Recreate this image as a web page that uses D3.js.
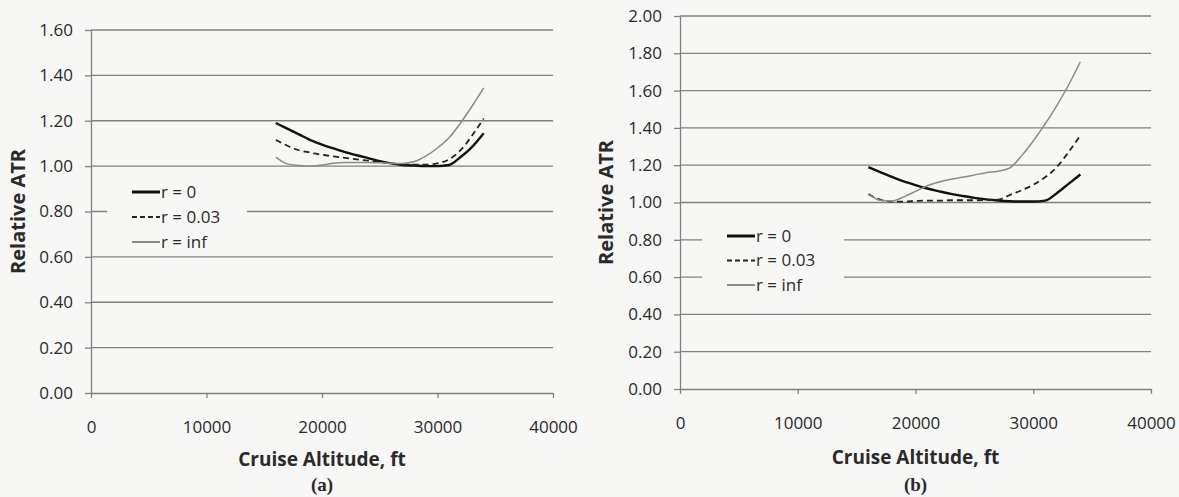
<!DOCTYPE html>
<html>
<head>
<meta charset="utf-8">
<script src="https://cdn.jsdelivr.net/npm/d3@7"></script>
<style>
  body { margin: 0; background: #f7f7f6; }
  svg { display: block; }
  text { font-family: "Open Sans", sans-serif; fill: #2a2a2a; }
</style>
</head>
<body>
<script>
// cruise altitudes, ft
var altitudes = [16000, 17000, 18000, 19000, 20000, 21000, 22000, 23000, 24000, 25000,
                 26000, 27000, 28000, 29000, 30000, 31000, 32000, 33000, 34000];

// panel (a)
var a_r0   = [1.19, 1.165, 1.14, 1.115, 1.095, 1.078, 1.062, 1.048, 1.035, 1.022,
              1.012, 1.005, 1.002, 1.0, 1.0, 1.005, 1.04, 1.085, 1.145];
var a_r003 = [1.115, 1.09, 1.07, 1.06, 1.05, 1.043, 1.036, 1.03, 1.024, 1.018,
              1.012, 1.008, 1.006, 1.006, 1.012, 1.03, 1.07, 1.135, 1.21];
var a_rinf = [1.04, 1.01, 1.003, 1.0, 1.005, 1.013, 1.016, 1.016, 1.016, 1.015,
              1.013, 1.012, 1.02, 1.045, 1.08, 1.125, 1.19, 1.265, 1.345];

// panel (b)
var b_r0   = [1.19, 1.163, 1.137, 1.113, 1.093, 1.075, 1.06, 1.046, 1.035, 1.025,
              1.017, 1.011, 1.007, 1.005, 1.005, 1.01, 1.05, 1.1, 1.15];
var b_r003 = [1.045, 1.015, 1.005, 1.005, 1.008, 1.01, 1.01, 1.012, 1.012, 1.012,
              1.013, 1.015, 1.04, 1.065, 1.095, 1.135, 1.19, 1.27, 1.36];
var b_rinf = [1.045, 1.012, 1.008, 1.03, 1.06, 1.09, 1.11, 1.125, 1.135, 1.148,
              1.16, 1.168, 1.185, 1.25, 1.33, 1.42, 1.52, 1.63, 1.755];

var xTicks = [0, 10000, 20000, 30000, 40000];
var seriesNames = ["r = 0", "r = 0.03", "r = inf"];

var styles = [
  {stroke: "#111", width: 2.4, dash: null},
  {stroke: "#222", width: 1.8, dash: "6,4"},
  {stroke: "#8a8a8a", width: 1.5, dash: null}
];

var svg = d3.select("body").append("svg")
    .attr("width", 1179)
    .attr("height", 497);

function panel(opt) {
  var x = d3.scaleLinear().domain([0, 40000]).range([opt.left, opt.right]);
  var y = d3.scaleLinear().domain([0, opt.ymax]).range([opt.bottom, opt.top]);
  var yTicks = d3.range(0, opt.ymax + 0.001, 0.2);
  var g = svg.append("g");

  // grid lines
  g.append("g").selectAll("line")
      .data(yTicks.slice(1))
    .enter().append("line")
      .attr("x1", opt.left).attr("x2", opt.right)
      .attr("y1", function(d) { return y(d); })
      .attr("y2", function(d) { return y(d); })
      .attr("stroke", "#808080")
      .attr("stroke-width", 1.3);

  // legend box hides part of the grid
  g.append("rect")
      .attr("x", opt.legBox[0]).attr("y", opt.legBox[1])
      .attr("width", opt.legBox[2]).attr("height", opt.legBox[3])
      .attr("fill", "#f7f7f6");

  var yAxis = g.append("g")
      .attr("transform", "translate(" + opt.left + ",0)")
      .call(d3.axisLeft(y).tickValues(yTicks).tickFormat(d3.format(".2f"))
        .tickSize(6).tickSizeOuter(0).tickPadding(12));

  var xAxis = g.append("g")
      .attr("transform", "translate(0," + opt.bottom + ")")
      .call(d3.axisBottom(x).tickValues(xTicks).tickFormat(d3.format("d"))
        .tickSize(5).tickSizeOuter(0).tickPadding(opt.xPad));

  [yAxis, xAxis].forEach(function(ax) {
    ax.select(".domain").attr("stroke", "#808080").attr("stroke-width", 1.3);
    ax.selectAll(".tick line").attr("stroke", "#808080").attr("stroke-width", 1.3);
    ax.selectAll(".tick text").style("font-size", "17px").attr("fill", "#2a2a2a");
  });

  var line = d3.line()
      .x(function(d) { return x(d[0]); })
      .y(function(d) { return y(d[1]); })
      .curve(d3.curveMonotoneX);

  opt.series.forEach(function(vals, i) {
    g.append("path")
        .datum(altitudes.map(function(a, k) { return [a, vals[k]]; }))
        .attr("d", line)
        .attr("fill", "none")
        .attr("stroke", styles[i].stroke)
        .attr("stroke-width", styles[i].width)
        .attr("stroke-dasharray", styles[i].dash);
  });

  // legend
  var leg = g.append("g").selectAll("g")
      .data(seriesNames)
    .enter().append("g")
      .attr("transform", function(d, i) { return "translate(" + opt.leg[0] + "," + (opt.leg[1] + i * opt.legStep) + ")"; });
  leg.append("line")
      .attr("x1", 0).attr("x2", 28)
      .attr("stroke", function(d, i) { return styles[i].stroke; })
      .attr("stroke-width", function(d, i) { return i == 0 ? 3 : 2; })
      .attr("stroke-dasharray", function(d, i) { return i == 1 ? "5,3" : null; });
  leg.append("text")
      .attr("x", 29).attr("dy", "0.35em")
      .style("font-size", "17px")
      .text(function(d) { return d; });

  // axis titles
  var cx = (opt.left + opt.right) / 2;
  g.append("text")
      .attr("transform", "translate(" + opt.yTitleX + "," + (opt.top + opt.bottom) / 2 + ") rotate(-90)")
      .attr("text-anchor", "middle").attr("dy", "0.35em")
      .style("font-size", "20px").style("font-weight", "bold")
      .text("Relative ATR");
  g.append("text")
      .attr("x", cx).attr("y", opt.xTitleY).attr("dy", "0.35em")
      .attr("text-anchor", "middle")
      .style("font-size", "19px").style("font-weight", "bold")
      .text("Cruise Altitude, ft");
  g.append("text")
      .attr("x", cx).attr("y", 484).attr("dy", "0.35em")
      .attr("text-anchor", "middle")
      .style("font-family", "'Liberation Serif', serif")
      .style("font-size", "19px").style("font-weight", "bold")
      .text(opt.label);
}

panel({left: 91, right: 553, top: 30, bottom: 393, ymax: 1.6,
       series: [a_r0, a_r003, a_rinf],
       legBox: [107, 179, 140, 72], leg: [132, 192], legStep: 25,
       yTitleX: 18, xTitleY: 459, xPad: 23, label: "(a)"});

panel({left: 680, right: 1151, top: 16, bottom: 389, ymax: 2.0,
       series: [b_r0, b_r003, b_rinf],
       legBox: [702, 222, 142, 74], leg: [727, 236], legStep: 24.5,
       yTitleX: 606, xTitleY: 457, xPad: 23, label: "(b)"});
</script>
</body>
</html>
